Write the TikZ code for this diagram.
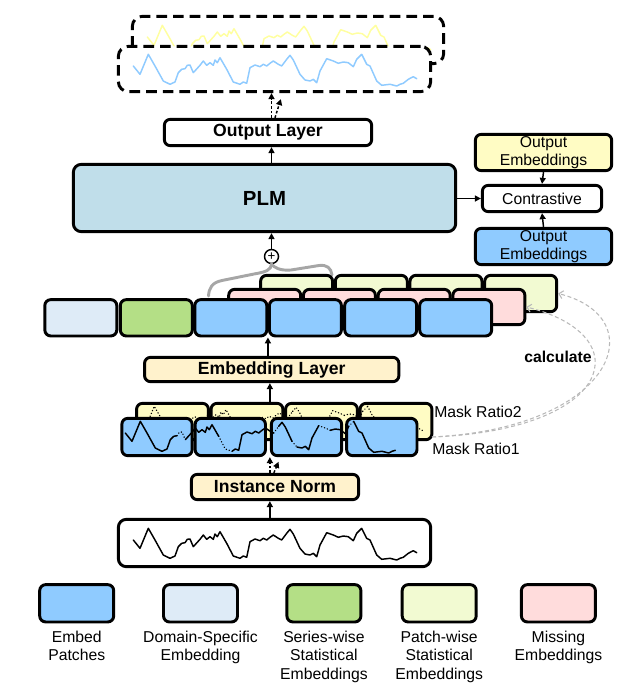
\documentclass[tikz,border=0pt]{standalone}
\usepackage{fontspec}
\setmainfont{Liberation Sans}
\usetikzlibrary{arrows.meta}

\definecolor{embedblue}{RGB}{143,203,255}
\definecolor{domainblue}{RGB}{222,235,247}
\definecolor{seriesgreen}{RGB}{180,223,134}
\definecolor{patchyellow}{RGB}{242,250,210}
\definecolor{missingpink}{RGB}{255,220,220}
\definecolor{layerbeige}{RGB}{255,242,204}
\definecolor{maskyellow}{RGB}{255,252,196}
\definecolor{plmblue}{RGB}{192,222,234}
\definecolor{wavegold}{RGB}{255,255,160}
\definecolor{bracegray}{RGB}{166,166,166}

\newcommand{\labfont}{\fontsize{11.8}{13.7}\selectfont}
\newcommand{\headfont}{\fontsize{13.2}{15}\selectfont\bfseries}

% the time series, cut in pieces (solid / masked)
\newcommand{\tspA}{(133.3,540) -- (140,548.3) -- (148.3,528.3) -- (155,540) -- (163.3,555) -- (170,558.3) -- (175,556) -- (178.3,546.7) -- (181.7,543.3) -- (185,542.7)}
\newcommand{\tspB}{(185,542.7) -- (187.3,539.3) -- (190,539) -- (193.3,546.7)}
\newcommand{\tspC}{(193.3,546.7) -- (200,539.3) -- (203.3,535) -- (206.7,539.3) -- (210,536.7) -- (213.3,539.3) -- (215,534) -- (217.3,536.7) -- (220,531.7) -- (226.7,543.3)}
\newcommand{\tspD}{(226.7,543.3) -- (233.3,556) -- (240,558.3)}
\newcommand{\tspE}{(240,558.3) -- (243.3,556) -- (246.7,557.3) -- (250,541.7) -- (255,539) -- (260,540.7) -- (263.3,538.3) -- (266.7,540) -- (270,537.3) -- (273.3,535) -- (278.3,538.3) -- (281.7,540)}
\newcommand{\tspF}{(281.7,540) -- (286.7,533.3)}
\newcommand{\tspG}{(286.7,533.3) -- (290,529.3) -- (293.3,534) -- (300,548.3)}
\newcommand{\tspH}{(300,548.3) -- (305,554)}
\newcommand{\tspI}{(305,554) -- (310,555) -- (313.3,553.3) -- (316.7,556.7) -- (320,545) -- (326.7,532.7)}
\newcommand{\tspJ}{(326.7,532.7) -- (333.3,535) -- (338.3,537.3)}
\newcommand{\tspK}{(338.3,537.3) -- (343.3,536) -- (348.3,536.7) -- (353.3,540.7) -- (356.7,533.3)}
\newcommand{\tspL}{(356.7,533.3) -- (361.7,528.3)}
\newcommand{\tspM}{(361.7,528.3) -- (366.7,538.3) -- (370,540) -- (376.7,555) -- (381.7,559.3) -- (386.7,558.7) -- (390,558.3) -- (396.7,560) -- (400,558.3) -- (403.3,557.3)}
\newcommand{\tspN}{(403.3,557.3) -- (408.3,553.3) -- (413.3,550.7) -- (416.7,552.7)}
\newcommand{\tsfull}{\tspA \tspB \tspC \tspD \tspE \tspF \tspG \tspH \tspI \tspJ \tspK \tspL \tspM \tspN}

\begin{document}
\begin{tikzpicture}[x=0.75pt, y=-0.75pt,
  box/.style={draw, line width=2.2pt, rounded corners=4.5pt, inner sep=0pt, align=center, font=\labfont},
  patch/.style={box, minimum width=54pt, minimum height=27.25pt},
  legbox/.style={box, minimum width=55.5pt, minimum height=28pt},
  legtext/.style={anchor=north, inner sep=0pt, align=center, font=\labfont},
  outbox/.style={draw, line width=2.2pt, rounded corners=7.5pt, dash pattern=on 8pt off 4.5pt, fill=white},
  flow/.style={line width=1.1pt, -{Triangle[length=4.5pt,width=4.5pt]}},
  hint/.style={flow, dash pattern=on 2pt off 1.5pt},
  calcline/.style={draw=gray!55, line width=0.8pt, dash pattern=on 3pt off 2pt, -{Straight Barb[length=3pt,width=6pt]}},
  wave/.style={line width=1.1pt, line join=round, line cap=round},
  masked/.style={dash pattern=on 0.1pt off 2.2pt}]
\useasboundingbox (0,0) rectangle (642,688);

% forecast output
\node[outbox, minimum width=233.5pt, minimum height=35.5pt] (outback) at (288,40) {};
\begin{scope}
  \clip (133,17) rectangle (443,63);
  \draw[wave, wavegold, shift={(14,-503)}] \tsfull;
\end{scope}
\node[outbox, minimum width=234.25pt, minimum height=34pt] (outfront) at (274.5,69) {};
\draw[wave, embedblue, shift={(0,-474)}] \tsfull;

\node[box, minimum width=155.5pt, minimum height=19.75pt, font=\headfont] (outlayer) at (268,132.5) {Output Layer};
\node[box, fill=plmblue, rounded corners=6pt, minimum width=286.75pt, minimum height=50.5pt, font=\fontsize{15.3}{18}\selectfont\bfseries] (plm) at (264.5,198) {PLM};

\node[box, fill=maskyellow, minimum width=102.25pt, minimum height=27.25pt] (oeyellow) at (543.5,152.5) {Output\\Embeddings};
\node[box, minimum width=89.5pt, minimum height=19.75pt] (contrast) at (542,198.5) {Contrastive};
\node[box, fill=embedblue, minimum width=102.25pt, minimum height=27.25pt] (oeblue) at (543.5,246.5) {Output\\Embeddings};

\node[circle, draw, line width=1.1pt, fill=white, inner sep=0pt, minimum size=10.5pt, font=\fontsize{10}{10}\selectfont] (plus) at (271.5,256.5) {+};

% brace from the sum down to the embeddings
\coordinate (braceL) at (208.5,296);
\coordinate (braceR) at (332,275);
\draw[bracegray, line width=2.2pt, line cap=round] (plus.south) .. controls (271,270) and (266,272) .. (254,274) -- (222,280.5) .. controls (212,282.5) and (209,288) .. (braceL);
\draw[bracegray, line width=2.2pt, line cap=round] (plus.south) .. controls (274,267) and (279,271) .. (291,270) -- (319,265.5) .. controls (327,264.5) and (331,268) .. (braceR);

% patch-wise statistics, missing, front row
\node[patch, fill=patchyellow] (pw1) at (296.6,293.5) {};
\node[patch, fill=patchyellow] (pw2) at (371.3,293.5) {};
\node[patch, fill=patchyellow] (pw3) at (446,293.5) {};
\node[patch, fill=patchyellow] (pw4) at (520.7,293.5) {};

\node[patch, fill=missingpink, minimum height=26.5pt] (ms1) at (264.7,307) {};
\node[patch, fill=missingpink, minimum height=26.5pt] (ms2) at (339.4,307) {};
\node[patch, fill=missingpink, minimum height=26.5pt] (ms3) at (414.2,307) {};
\node[patch, fill=missingpink, minimum height=26.5pt] (ms4) at (488.9,307) {};

\node[patch, fill=domainblue] (emb1) at (80.8,317.8) {};
\node[patch, fill=seriesgreen] (emb2) at (156.3,317.8) {};
\node[patch, fill=embedblue] (emb3) at (230.8,317.8) {};
\node[patch, fill=embedblue] (emb4) at (305.4,317.8) {};
\node[patch, fill=embedblue] (emb5) at (380.7,317.8) {};
\node[patch, fill=embedblue] (emb6) at (455.7,317.8) {};

\node[box, fill=layerbeige, minimum width=190.75pt, minimum height=18.25pt, font=\headfont] (emblayer) at (271.7,369.5) {Embedding Layer};

% masked patches
\node[patch, fill=maskyellow, minimum width=53.9pt] (mrtwo1) at (172.5,421.5) {};
\node[patch, fill=maskyellow, minimum width=53.9pt] (mrtwo2) at (247,421.5) {};
\node[patch, fill=maskyellow, minimum width=53.9pt] (mrtwo3) at (321.5,421.5) {};
\node[patch, fill=maskyellow, minimum width=53.9pt] (mrtwo4) at (396,421.5) {};
\begin{scope}
  \clip (135,402) rectangle (433,441);
  \draw[wave, masked, shift={(6,-122)}] \tsfull;
\end{scope}

\node[patch, fill=embedblue, minimum width=52.75pt, minimum height=28pt] (mrone1) at (157,437) {};
\node[patch, fill=embedblue, minimum width=52.75pt, minimum height=28pt] (mrone2) at (230.3,437) {};
\node[patch, fill=embedblue, minimum width=52.75pt, minimum height=28pt] (mrone3) at (306.5,437) {};
\node[patch, fill=embedblue, minimum width=52.75pt, minimum height=28pt] (mrone4) at (381.8,437) {};
\begin{scope}
  \clip (121,417) rectangle (418,457);
  \begin{scope}[shift={(-8,-107)}]
    \draw[wave] \tspA; \draw[wave, masked] \tspB;
    \draw[wave] \tspC; \draw[wave, masked] \tspD;
    \draw[wave] \tspE; \draw[wave, masked] \tspF;
    \draw[wave] \tspG; \draw[wave, masked] \tspH;
    \draw[wave] \tspI; \draw[wave, masked] \tspJ;
    \draw[wave] \tspK; \draw[wave, masked] \tspL;
    \draw[wave] \tspM;
  \end{scope}
\end{scope}

\node[anchor=west, inner sep=0pt, font=\labfont] (ratiotwo) at (434,412) {Mask Ratio2};
\node[anchor=west, inner sep=0pt, font=\labfont] (ratioone) at (432,449) {Mask Ratio1};

\node[box, fill=layerbeige, minimum width=125.5pt, minimum height=19pt, font=\headfont] (instnorm) at (275,487) {Instance Norm};
\node[box, rounded corners=6pt, minimum width=234.25pt, minimum height=35.5pt] (input) at (274.5,543) {};
\draw[wave] \tsfull;

% statistics are computed from the masked patches
\coordinate (calcstart) at (432,437);
\node[inner sep=0pt, font=\labfont\bfseries] (calc) at (558,357) {calculate};
\draw[calcline] (calcstart) .. controls (615,428) and (655,318) .. (pw4.east);
\draw[calcline] (calcstart) .. controls (615,430) and (640,335) .. (ms4.east);

% arrows
\draw[flow] (input.north -| mrone3.west) -- (instnorm.south -| mrone3.west);
\draw[hint] (instnorm.north -| mrone3.west) -- (mrone3.south west);
\draw[hint] ([xshift=3pt]instnorm.north -| mrone3.west) -- ([xshift=6.5pt,yshift=-3.5pt]mrone3.south west);
\draw[flow] (mrtwo2.north -| mrone3.west) -- (emblayer.south -| mrone3.west);
\draw[flow] (emblayer.north -| emb4.south west) -- (emb4.south west);
\draw[flow] (plus.north) -- (plm.south -| plus.north);
\draw[flow] (plm.north -| plus.north) -- (outlayer.south -| plus.north);
\draw[hint] (outlayer.north -| plus.north) -- (outfront.south -| plus.north);
\draw[hint] ([xshift=2.6pt]outlayer.north -| plus.north) -- ([xshift=7pt,yshift=-4.5pt]outfront.south -| plus.north);
\draw[flow] (plm.east |- contrast.west) -- (contrast.west);
\draw[flow] (oeyellow.south) -- (contrast.north);
\draw[flow] (oeblue.north) -- (contrast.south);

% legend
\node[legbox, fill=embedblue] (leg1) at (76.7,603.3) {};
\node[legbox, fill=domainblue] (leg2) at (200.5,603.3) {};
\node[legbox, fill=seriesgreen] (leg3) at (323.9,603.3) {};
\node[legbox, fill=patchyellow] (leg4) at (439.2,603.3) {};
\node[legbox, fill=missingpink] (leg5) at (558.4,603.3) {};

\node[legtext] (legt1) at (76.7,631) {Embed\\Patches};
\node[legtext] (legt2) at (200.5,631) {Domain-Specific\\Embedding};
\node[legtext] (legt3) at (323.9,631) {Series-wise\\Statistical\\Embeddings};
\node[legtext] (legt4) at (439.2,631) {Patch-wise\\Statistical\\Embeddings};
\node[legtext] (legt5) at (558.4,631) {Missing\\Embeddings};
\end{tikzpicture}
\end{document}
